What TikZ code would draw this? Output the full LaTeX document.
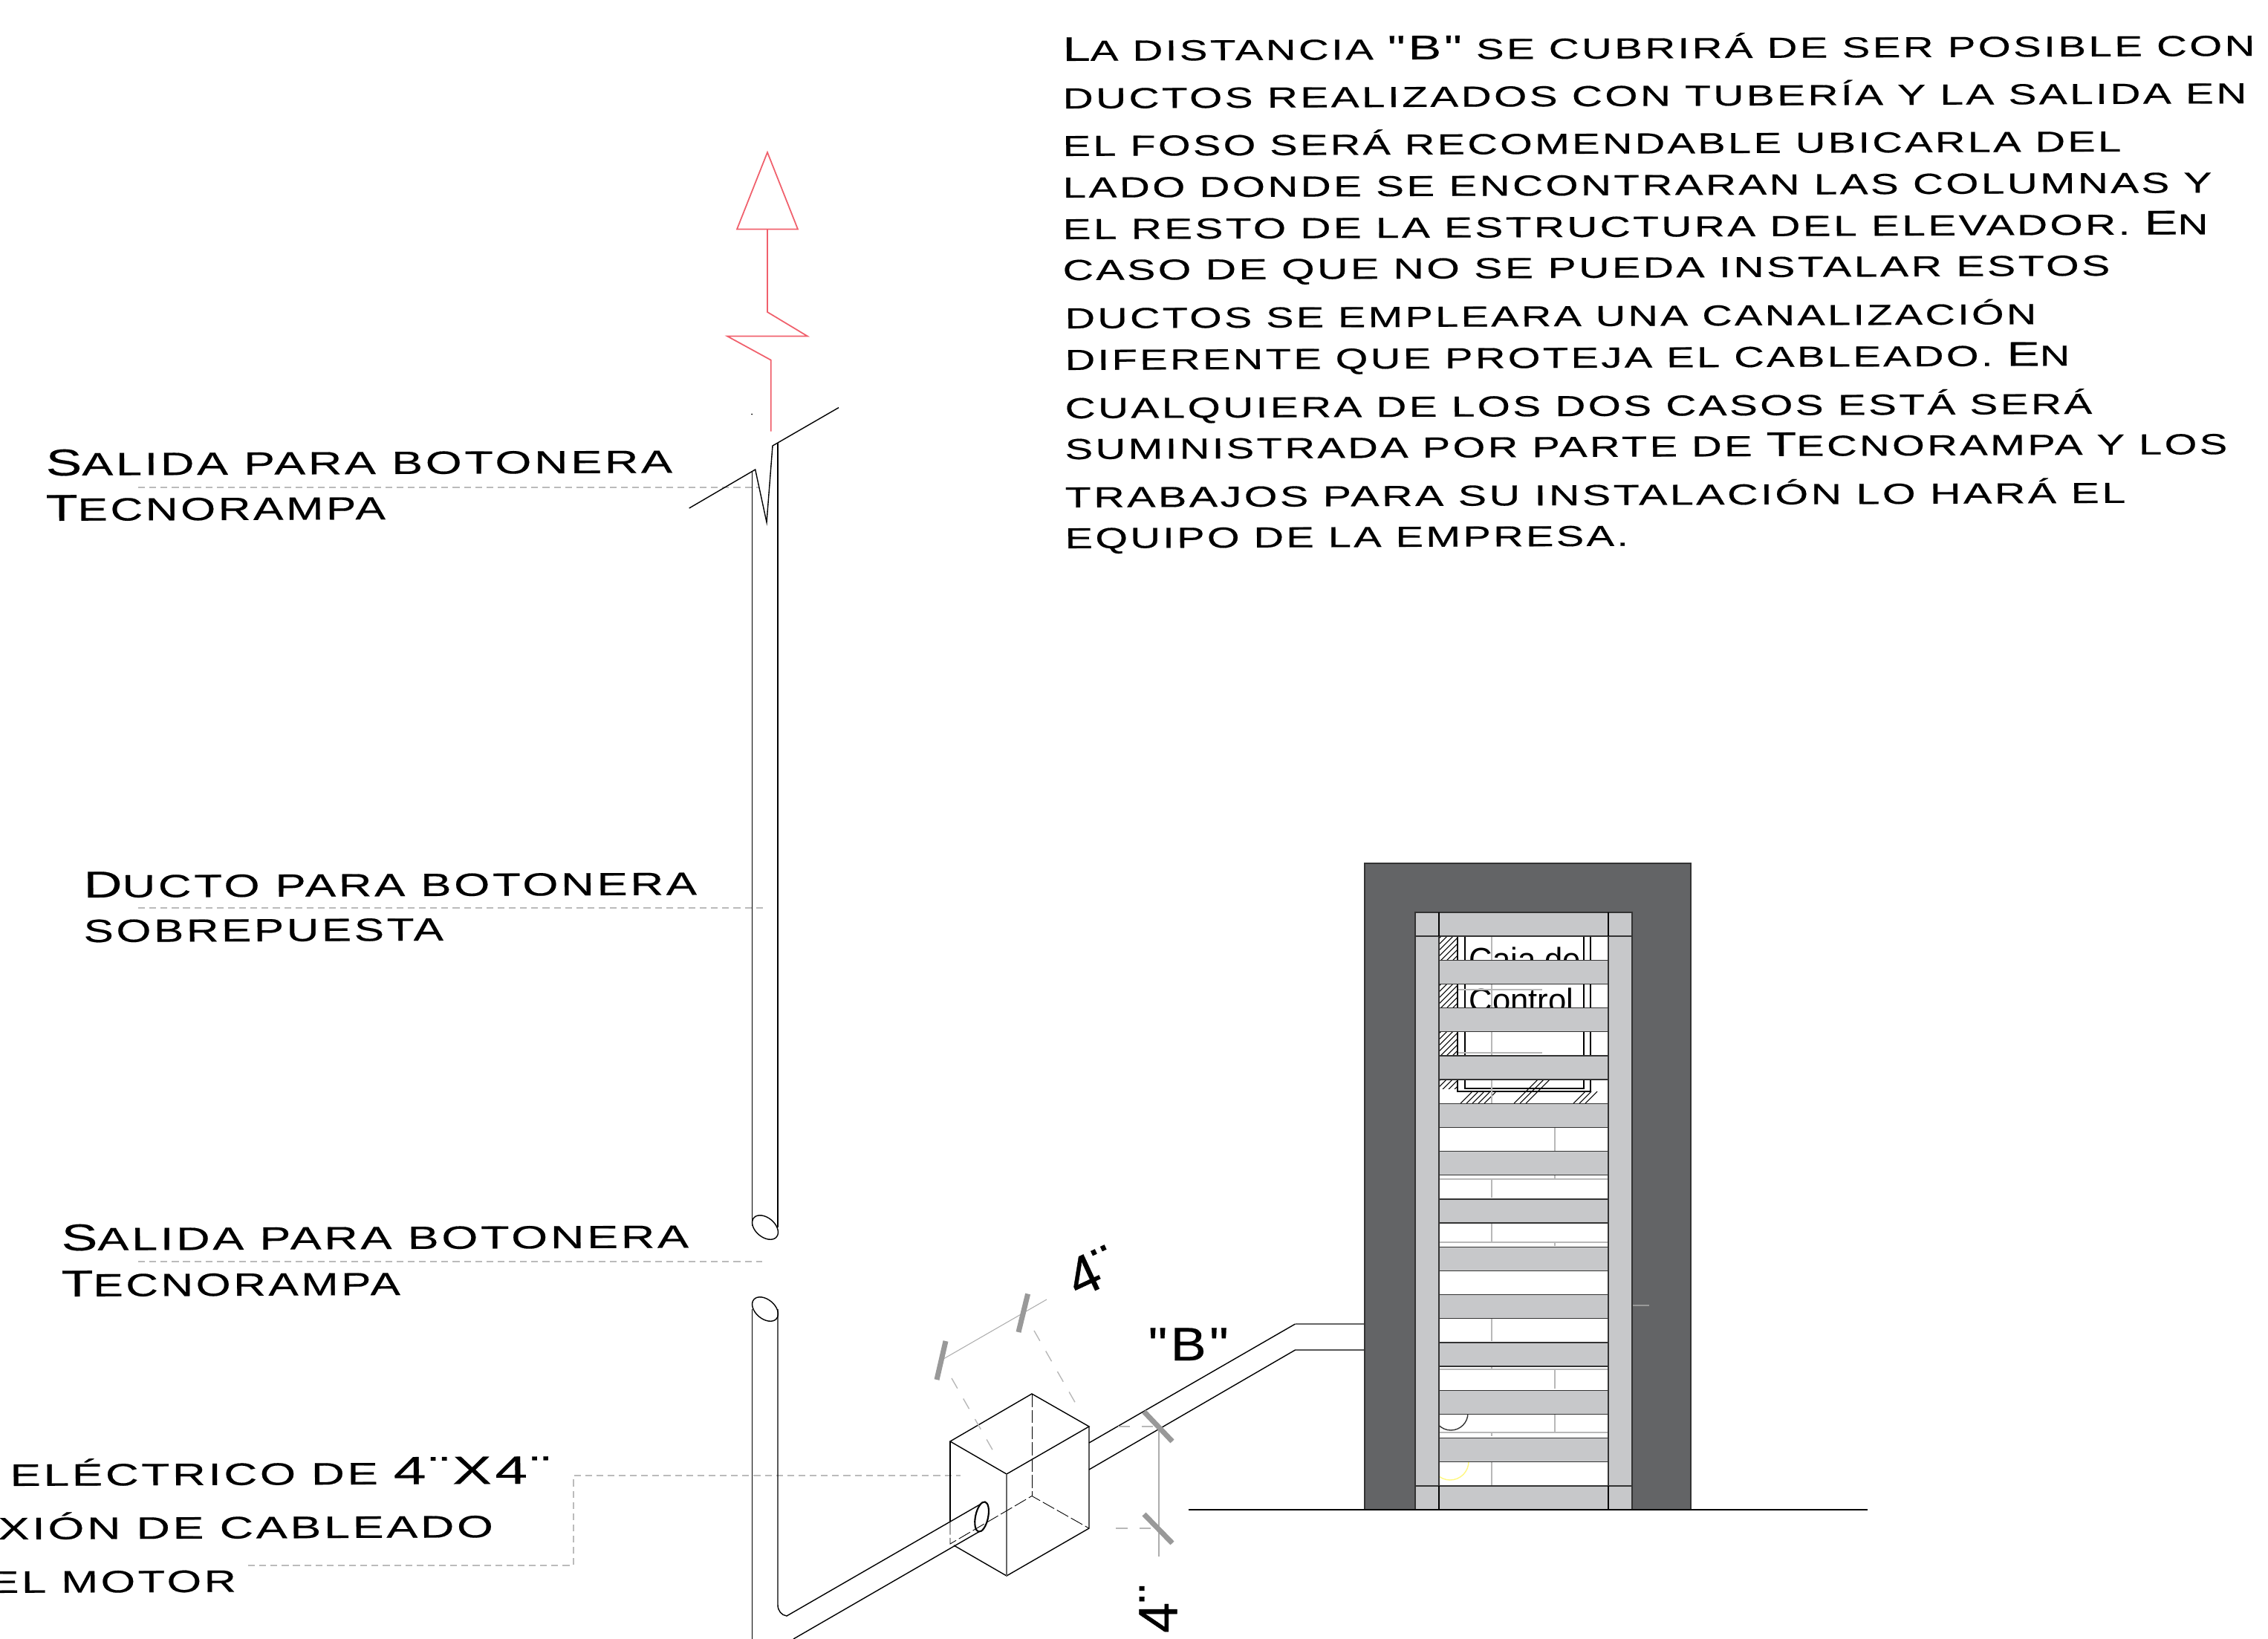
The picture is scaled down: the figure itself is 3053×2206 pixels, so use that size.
\documentclass[tikz,border=0pt]{standalone}
\usepackage{graphicx}
\usepackage{fontspec}
\setmainfont{Liberation Sans}
\newfontfamily\labelfont[LetterSpace=6,FakeBold=0.35]{Liberation Sans}
\newfontfamily\dimfont[FakeBold=0.5]{Liberation Sans}
\usetikzlibrary{calc}

\definecolor{muro}{HTML}{636466}
\definecolor{barra}{HTML}{C7C8CA}
\definecolor{guia}{HTML}{BBBBBB}
\definecolor{cota}{HTML}{999999}
\definecolor{rojo}{HTML}{F0606C}

\newdimen\pxu
\pxu=0.2845pt
% width in px, font size, text
\newcommand{\fitline}[3]{\resizebox{#1\pxu}{\height}{\labelfont\fontsize{#2}{#2}\selectfont #3}}
\newcommand{\capl}[1]{{\fontsize{13.1}{13.1}\selectfont #1}}
\newcommand{\capb}[1]{{\fontsize{14.3}{14.3}\selectfont #1}}
\newcommand{\capd}[1]{{\fontsize{15.1}{15.1}\selectfont #1}}

\begin{document}
\begin{tikzpicture}[
    x=0.01cm, y=-0.01cm,
    line width=0.4pt,
    txt/.style={anchor=base west, inner sep=0pt, rotate=0.25},
    leader/.style={guia, line width=0.5pt, dash pattern=on 2.6pt off 1.7pt},
    hidden/.style={line width=0.25pt, dash pattern=on 5pt off 1.2pt},
    extline/.style={cota!70, line width=0.4pt, dash pattern=on 4.5pt off 4.5pt},
    tick/.style={cota, line width=2pt},
    dimline/.style={cota!80, line width=0.3pt},
    hatchline/.style={line width=0.3pt},
    brick/.style={cota!70, line width=0.5pt},
    bar/.style={fill=barra, draw=black!80, line width=0.4pt},
    redline/.style={rojo, line width=0.5pt},
    dimtxt/.style={inner sep=0pt, font=\dimfont\fontsize{21}{21}\selectfont},
  ]
  \useasboundingbox (0,0) rectangle (3053,2206);
  \clip (0,0) rectangle (3053,2206);

  % note
  \foreach \n/\xa/\ya/\wid/\txt in {
      1/1430/82/1604/{\capl{L}A DISTANCIA \capl{"B"} SE CUBRIRÁ DE SER POSIBLE CON},
      2/1430/146/1593/{DUCTOS REALIZADOS CON TUBERÍA Y LA SALIDA EN},
      3/1430/210/1424/{EL FOSO SERÁ RECOMENDABLE UBICARLA DEL},
      4/1430/266/1546/{LADO DONDE SE ENCONTRARAN LAS COLUMNAS Y},
      5/1430/322/1541/{EL RESTO DE LA ESTRUCTURA DEL ELEVADOR. \capl{E}N},
      6/1430/377/1409/{CASO DE QUE NO SE PUEDA INSTALAR ESTOS},
      7/1433/442/1307/{DUCTOS SE EMPLEARA UNA CANALIZACIÓN},
      8/1433/498/1352/{DIFERENTE QUE PROTEJA EL CABLEADO. \capl{E}N},
      9/1433/563/1382/{CUALQUIERA DE LOS DOS CASOS ESTÁ SERÁ},
      10/1433/618/1564/{SUMINISTRADA POR PARTE DE \capl{T}ECNORAMPA Y LOS},
      11/1433/683/1427/{TRABAJOS PARA SU INSTALACIÓN LO HARÁ EL},
      12/1433/738/758/{EQUIPO DE LA EMPRESA.}} {
      \node[txt] (note\n) at (\xa,\ya) {\fitline{\wid}{11.1}{\txt}};
    }

  % labels
  \foreach \n/\xa/\ya/\wid/\txt in {
      a/61/640/843/{\capb{S}ALIDA PARA BOTONERA},
      b/61/701/457/{\capb{T}ECNORAMPA},
      c/112/1208/825/{\capb{D}UCTO PARA BOTONERA},
      d/112/1268/484/{SOBREPUESTA},
      e/82/1683/844/{\capb{S}ALIDA PARA BOTONERA},
      f/82/1745/456/{\capb{T}ECNORAMPA}} {
      \node[txt] (lab\n) at (\xa,\ya) {\fitline{\wid}{12.3}{\txt}};
    }
  \node[txt] (boxa) at (13,2000) {\fitline{727}{11.9}{ELÉCTRICO DE \capd{4¨X4¨}}};
  \node[txt] (boxb) at (-3,2072) {\fitline{666}{11.9}{XIÓN DE CABLEADO}};
  \node[txt] (boxc) at (-15,2144) {\fitline{332}{11.9}{EL MOTOR}};

  % leaders
  \draw[leader] (186,656) -- (1022,656);
  \draw[leader] (186,1222) -- (1028,1222);
  \draw[leader] (186,1698) -- (1026,1698);
  \draw[leader] (334,2107) -- (772,2107) -- (772,1986) -- (1293,1986);

  % red symbol
  \draw[redline] (1033,205) -- (992,308.6) -- (1074,308.6) -- cycle;
  \draw[redline] (1033,308.6) -- (1033,420) -- (1087,452.5) -- (979,452.5)
  -- (1037.7,484.6) -- (1037.7,580.7);
  \fill (1012,557.5) circle (1);

  % vertical duct
  \draw (927.7,684) -- (1016.7,632) -- (1032,703) -- (1040,600) -- (1129,548.6);
  \draw (1012.7,635) -- (1012.7,1650);
  \draw (1047,596) -- (1047,1652);
  \draw[rotate around={-40:(1030,1652)}] (1030,1652) ellipse [x radius=20, y radius=13];
  \draw[rotate around={-40:(1030,1762)}] (1030,1762) ellipse [x radius=20, y radius=13];
  \draw (1012.7,1762) -- (1012.7,2206);
  \draw (1047,1762) -- (1047,2160) .. controls (1047,2168) and (1052,2174) .. (1059,2175)
  -- (1319,2025);
  \draw (1068,2206) -- (1319,2061);
  \draw[line width=0.6pt, rotate around={-12:(1321.6,2041.5)}] (1321.6,2041.5)
  ellipse [x radius=8.5, y radius=20.5];

  % box
  \coordinate (tb) at (1389,1876);
  \coordinate (tr) at (1466,1920);
  \coordinate (tf) at (1355,1984);
  \coordinate (tl) at (1279,1940);
  \coordinate (bb) at (1389,2013.5);
  \coordinate (br) at (1466,2057);
  \coordinate (bf) at (1355,2121);
  \coordinate (bl) at (1279,2078);
  \draw (tb) -- (tr) -- (tf) -- (tl) -- cycle;
  \draw (tl) -- (1279,2048);
  \draw (1284,2080) -- (bf) -- (br) -- (tr);
  \draw[black!60] (tf) -- (bf);
  \draw[hidden] (tb) -- (bb);
  \draw[hidden] (1279,2048) -- (bl) -- (bb) -- (br);

  % side duct
  \draw (1466,1942) -- (1743.5,1782);
  \draw[black!60, line width=0.5pt] (1743.5,1782) -- (1837,1782);
  \draw (1466,1978) -- (1743.5,1817) -- (1837,1817);

  % dimensions
  \draw[dimline] (1270,1829) -- (1409,1749);
  \draw[tick] (1273,1805) -- (1261,1857);
  \draw[tick] (1383.6,1741.5) -- (1371,1793);
  \draw[extline] (1281,1855) -- (1337,1953);
  \draw[extline] (1392,1791) -- (1448,1889);
  \draw[dimline] (1560,1920) -- (1560,2095);
  \draw[extline] (1505,1920) -- (1560,1920);
  \draw[extline] (1502,2057) -- (1560,2057);
  \draw[tick] (1540,1900) -- (1578,1940);
  \draw[tick] (1540,2038) -- (1578,2077);
  \node[dimtxt, rotate=25] (dimtop) at (1470,1711) {4¨};
  \node[dimtxt, rotate=90] (dimlow) at (1559,2165) {4¨};
  \node[inner sep=0pt, anchor=base west] (dimb) at (1545,1831)
  {\resizebox{108\pxu}{\height}{\labelfont\fontsize{18}{18}\selectfont "B"}};

  % pit walls
  \fill[muro] (1837,1162) rectangle (2276,2032);
  \draw[black!80] (1837,2032) -- (1837,1162) -- (2276,1162) -- (2276,2032);
  \fill[white] (1905,1228) rectangle (2197,2032);
  \draw[cota, line width=0.5pt] (2198,1757) -- (2220,1757);

  % control box behind the rungs
  \begin{scope}
    \clip (1937,1260) rectangle (1962,1465);
    \foreach \h in {1690,1698,...,1962} {
        \draw[hatchline] (\h,1470) -- (\h+220,1250);
      }
  \end{scope}
  \foreach \h in {1966,1974,...,1998} {
      \draw[hatchline] (\h,1485) -- (\h+15,1470);
    }
  \foreach \h in {2038,2046,2054} {
      \draw[hatchline] (\h,1485) -- (\h+33,1452);
    }
  \foreach \h in {2118,2126,2134} {
      \draw[hatchline] (\h,1485) -- (\h+16,1469);
    }
  \draw[line width=0.8pt] (1962,1260) -- (1962,1469) -- (2141,1469) -- (2141,1260);
  \draw[line width=0.8pt] (1972,1260) -- (1972,1465) -- (2132,1465) -- (2132,1260);
  \node[inner sep=0pt, anchor=base west, font=\fontsize{12.4}{12.4}\selectfont] (caja) at (1977,1306) {Caja de};
  \node[inner sep=0pt, anchor=base west, font=\fontsize{12.4}{12.4}\selectfont] (control) at (1977,1361) {Control};
  \draw[brick] (1963,1332) -- (2076,1332);
  \draw[brick] (1963,1417) -- (2076,1417);

  % brick joints
  \draw[brick] (2008,1260) -- (2008,1485);
  \foreach \xa/\ya/\yb in {
      2093/1517/1549, 2093/1580/1587, 2008/1587/1612, 2008/1645/1672, 2093/1672/1677,
      2008/1773/1805, 2008/1837/1843, 2093/1843/1869, 2093/1901/1928, 2008/1928/1933,
      2008/1965/2000} {
      \draw[brick] (\xa,\ya) -- (\xa,\yb);
    }
  \foreach \ya in {1587,1672,1843,1928} {
      \draw[brick] (1937,\ya) -- (2165,\ya);
    }
  \draw[black!80] (1953,1902) circle (23);
  \draw[yellow!50!white] (1952,1967) circle (25);

  % frame
  \draw[bar] (1905,1228) rectangle (1937,2032);
  \draw[bar] (2165,1228) rectangle (2197,2032);
  \foreach \k in {1,...,11} {
      \draw[bar] (1937,1228+64.33*\k) rectangle (2165,1228+64.33*\k+32);
    }
  \draw[bar] (1905,1228) rectangle (2197,1260);
  \draw[bar] (1905,2000) rectangle (2197,2032);
  \draw (1937,1228) -- (1937,1260);
  \draw (2165,1228) -- (2165,1260);
  \draw (1937,2000) -- (1937,2032);
  \draw (2165,2000) -- (2165,2032);

  % floor
  \draw[line width=0.5pt] (1600,2032) -- (2514,2032);
\end{tikzpicture}
\end{document}
